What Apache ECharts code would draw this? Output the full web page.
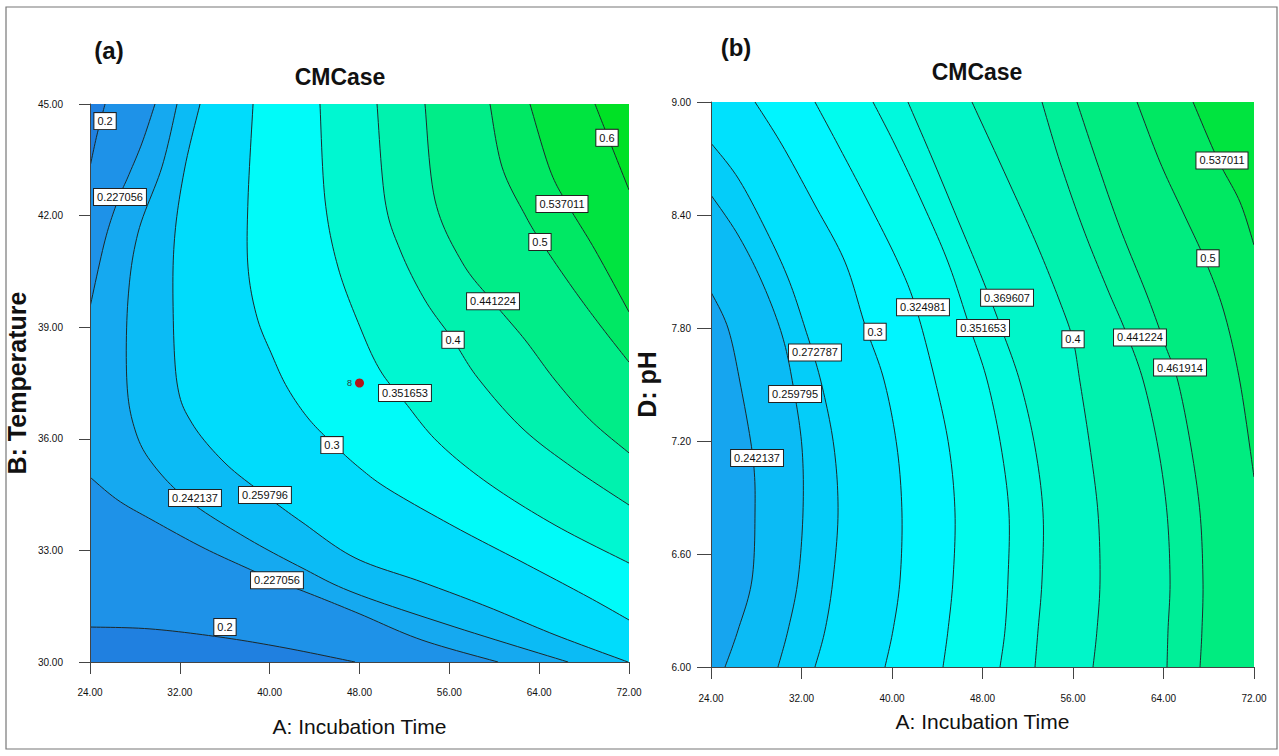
<!DOCTYPE html>
<html><head><meta charset="utf-8">
<script src="https://cdn.jsdelivr.net/npm/echarts/dist/echarts.min.js"></script>
<style>html,body{margin:0;padding:0;background:#fff}#c{width:1279px;height:756px}</style>
</head><body><div id="c"></div>
<script>
// ---------- Panel (a): A: Incubation Time (x) vs B: Temperature (y) ----------
const xTicksA = [24, 72, 8];          // min, max, step
const yTicksA = [30, 45, 3];
const A_L0200_top = [[25.34,45],[24.62,44.17],[24,43.31]];
const A_L0200_bot = [[24,30.94],[29.34,30.89],[35.58,30.67],[41.37,30.38],[47.6,30.0]];
const A_L0227_top = [[29.79,45],[28.63,43.95],[27.38,43.04],[26.49,42.42],[25.34,41.34],[24,39.54]];
const A_L0227_bot = [[24,34.97],[26.49,34.35],[29.52,33.82],[33.97,33.09],[37.8,32.55],[40.47,32.2],[44.3,31.75],[48.04,31.29],[53.56,30.59],[60.33,30]];
const A_L0242 = [[31.75,45],[30.41,43.31],[28.27,41.53],[27.38,39.73],[27.29,37.5],[28.01,36.24],[29.52,35.35],[32.73,34.35],[37.8,33.36],[42.88,32.53],[47.6,31.85],[56.5,30.94],[66.57,30]];
const A_L0260 = [[33.8,45],[32.46,43.31],[31.57,41.53],[31.39,39.73],[31.75,37.5],[33.08,36.42],[36.02,35.35],[39.58,34.49],[42.88,33.76],[47.6,32.8],[53.56,32.15],[59.44,31.48],[65.41,30.73],[71.91,30]];
const A_L0300 = [[38.52,45],[38.07,42.42],[38.07,40.62],[38.87,39.27],[40.21,38.25],[41.54,37.39],[43.41,36.56],[45.55,35.89],[48.04,35.21],[50.72,34.62],[56.5,33.63],[62.47,32.69],[68.35,31.75],[72,31.13]];
const A_L0352 = [[44.48,45],[44.93,42.42],[46.08,40.62],[48.04,39.01],[49.82,37.85],[52.05,36.98],[54.99,35.91],[59.44,34.81],[65.41,33.68],[72,32.66]];
const A_L0400 = [[49.56,45],[50.27,42.42],[51.61,41.08],[53.83,39.73],[56.33,38.66],[58.55,37.63],[62.47,36.29],[66.92,35.24],[72,34.22]];
const A_L0441 = [[53.83,45],[54.72,42.42],[57.13,40.75],[59.89,39.68],[62.74,38.66],[65.41,37.58],[68.53,36.51],[72,35.62]];
const A_L0500 = [[59.62,45],[60.69,43.31],[62.74,42.02],[64.25,41.26],[66.92,40.08],[69.41,39.06],[72,38.06]];
const A_L0537 = [[63.18,45],[64.96,43.23],[66.57,42.28],[68.97,41.08],[72,39.41]];
const A_L0600 = [[68.97,45],[70.13,44.11],[72,42.69]];
const A_labels = [["0.2",25.34,44.54],["0.227056",26.67,42.5],["0.6",70.04,44.09],["0.537011",66.03,42.31],["0.5",64.07,41.29],["0.441224",59.89,39.7],["0.4",56.33,38.66],["0.351653",52.05,37.23],["0.3",45.55,35.83],["0.259796",39.58,34.49],["0.242137",33.35,34.41],["0.227056",40.65,32.2],["0.2",36.02,30.94]];
const A_designPoint = [48, 37.5, "8"];

// ---------- Panel (b): A: Incubation Time (x) vs D: pH (y) ----------
const xTicksB = [24, 72, 8];
const yTicksB = [6, 9, 0.6];
const B_L0242 = [[24,7.991],[25.50,7.800],[26.56,7.513],[27.71,7.110],[27.89,6.818],[27.62,6.462],[26.39,6.196],[25.24,6.0]];
const B_L0260 = [[24,8.506],[26.39,8.294],[28.51,8.044],[30.28,7.763],[31.25,7.497],[32.04,7.168],[32.13,6.818],[31.69,6.462],[30.81,6.196],[29.92,6.0]];
const B_L0273 = [[24,8.782],[26.39,8.596],[28.77,8.331],[30.81,8.065],[32.31,7.800],[33.73,7.513],[34.87,7.168],[35.23,6.818],[34.78,6.462],[34.08,6.196],[33.19,6.0]];
const B_L0300 = [[27.89,9],[30.28,8.772],[33.19,8.453],[35.85,8.150],[37.61,7.816],[39.29,7.524],[40.44,7.168],[40.88,6.818],[40.71,6.462],[40.09,6.196],[39.38,6.0]];
const B_L0325 = [[33.19,9],[35.23,8.772],[37.88,8.469],[40.53,8.150],[42.12,7.906],[43.80,7.524],[45.04,7.168],[45.57,6.818],[45.39,6.462],[44.95,6.196],[44.51,6.0]];
const B_L0352 = [[38.32,9],[40.27,8.772],[42.65,8.469],[44.95,8.150],[46.81,7.816],[48.40,7.524],[49.64,7.168],[50.34,6.818],[50.25,6.462],[49.99,6.196],[49.55,6.0]];
const B_L0370 = [[41.41,9],[43.62,8.692],[45.83,8.373],[47.96,8.065],[49.72,7.789],[51.32,7.513],[52.64,7.168],[53.35,6.818],[53.26,6.462],[52.91,6.196],[52.64,6.0]];
const B_L0400 = [[47.07,9],[50.17,8.596],[52.82,8.241],[54.85,7.938],[56.0,7.736],[56.62,7.513],[57.50,7.168],[58.21,6.818],[58.39,6.462],[58.12,6.196],[57.77,6.0]];
const B_L0441 = [[53.26,9],[54.85,8.681],[56.88,8.331],[59.01,8.012],[60.60,7.789],[62.19,7.524],[63.51,7.168],[64.31,6.818],[64.58,6.462],[64.40,6.196],[64.31,6.0]];
const B_L0462 = [[56.35,9],[58.12,8.681],[60.16,8.331],[62.54,7.975],[64.14,7.710],[65.29,7.513],[66.43,7.168],[67.23,6.818],[67.49,6.462],[67.40,6.196],[67.23,6.0]];
const B_L0500 = [[61.66,9],[63.69,8.681],[65.72,8.416],[67.67,8.161],[69.35,7.885],[70.76,7.513],[72,7.009]];
const B_L0537 = [[66.61,9],[68.82,8.692],[70.76,8.469],[72,8.241]];
const B_labels = [["0.537011",69.17,8.69],["0.5",67.93,8.17],["0.324981",42.74,7.91],["0.369607",50.17,7.96],["0.3",38.5,7.78],["0.351653",48.05,7.80],["0.4",56.0,7.74],["0.441224",61.92,7.75],["0.461914",65.46,7.59],["0.272787",33.19,7.67],["0.259795",31.43,7.45],["0.242137",28.07,7.11]];

// ---------- colour ramp (response value -> colour) ----------
const rampStops = [[0.18,'#1e78dc'],[0.20,'#2188e4'],[0.22,'#1c98ea'],[0.24,'#12aef2'],[0.26,'#06c6f8'],[0.28,'#00dcfc'],[0.30,'#00ecff'],[0.32,'#00faff'],[0.34,'#00fcec'],[0.37,'#00f8d6'],[0.40,'#00f4bc'],[0.44,'#00f0a0'],[0.48,'#00ec80'],[0.52,'#00e862'],[0.56,'#00e444'],[0.60,'#00e22e'],[0.64,'#00e01c']];
function hex2rgb(h){return [parseInt(h.slice(1,3),16),parseInt(h.slice(3,5),16),parseInt(h.slice(5,7),16)];}
function colorAt(v){
  if(v<=rampStops[0][0]) return rampStops[0][1];
  for(let i=1;i<rampStops.length;i++){
    if(v<=rampStops[i][0]){
      const a=rampStops[i-1],b=rampStops[i],t=(v-a[0])/(b[0]-a[0]);
      const ca=hex2rgb(a[1]),cb=hex2rgb(b[1]);
      return 'rgb('+ca.map((c,j)=>Math.round(c+(cb[j]-c)*t)).join(',')+')';
    }
  }
  return rampStops[rampStops.length-1][1];
}

// layers painted in order: each is the region below a contour
const cA = {x0:xTicksA[0],x1:xTicksA[1],y0:yTicksA[0],y1:yTicksA[1]};
const cB = {x0:xTicksB[0],x1:xTicksB[1],y0:yTicksB[0],y1:yTicksB[1]};
function rect(c){return [[c.x0,c.y0],[c.x1,c.y0],[c.x1,c.y1],[c.x0,c.y1]];}
const RBL_A=[[cA.x1,cA.y0],[cA.x0,cA.y0],[cA.x0,cA.y1]], BL_A=[[cA.x0,cA.y0],[cA.x0,cA.y1]];
const layersA = [
  {line:null, close:rect(cA), v:0.62},
  {line:A_L0600, close:RBL_A, v:0.568},
  {line:A_L0537, close:RBL_A, v:0.518},
  {line:A_L0500, close:RBL_A, v:0.47},
  {line:A_L0441, close:RBL_A, v:0.42},
  {line:A_L0400, close:RBL_A, v:0.376},
  {line:A_L0352, close:RBL_A, v:0.326},
  {line:A_L0300, close:RBL_A, v:0.28},
  {line:A_L0260, close:BL_A, v:0.251},
  {line:A_L0242, close:BL_A, v:0.235},
  {line:A_L0227_top, close:[[cA.x0,cA.y1]], v:0.213},
  {line:A_L0227_bot, close:[[cA.x0,cA.y0]], v:0.213},
  {line:A_L0200_top, close:[[cA.x0,cA.y1]], v:0.19},
  {line:A_L0200_bot, close:[[cA.x0,cA.y0]], v:0.19}
];
const RBL_B=[[cB.x1,cB.y0],[cB.x0,cB.y0],[cB.x0,cB.y1]], BL_B=[[cB.x0,cB.y0],[cB.x0,cB.y1]];
const layersB = [
  {line:null, close:rect(cB), v:0.57},
  {line:B_L0537, close:RBL_B, v:0.52},
  {line:B_L0500, close:RBL_B, v:0.48},
  {line:B_L0462, close:BL_B, v:0.45},
  {line:B_L0441, close:BL_B, v:0.42},
  {line:B_L0400, close:BL_B, v:0.385},
  {line:B_L0370, close:BL_B, v:0.36},
  {line:B_L0352, close:BL_B, v:0.338},
  {line:B_L0325, close:BL_B, v:0.3125},
  {line:B_L0300, close:BL_B, v:0.286},
  {line:B_L0273, close:[[cB.x0,cB.y0]], v:0.266},
  {line:B_L0260, close:[[cB.x0,cB.y0]], v:0.251},
  {line:B_L0242, close:[[cB.x0,cB.y0]], v:0.232}
];
const linesA = [A_L0200_top,A_L0200_bot,A_L0227_top,A_L0227_bot,A_L0242,A_L0260,A_L0300,A_L0352,A_L0400,A_L0441,A_L0500,A_L0537,A_L0600];
const linesB = [B_L0242,B_L0260,B_L0273,B_L0300,B_L0325,B_L0352,B_L0370,B_L0400,B_L0441,B_L0462,B_L0500,B_L0537];

// Catmull-Rom smoothing in pixel space (rendering only)
function spline(P,n){
  if(P.length<3) return P.slice();
  const out=[];
  for(let i=0;i<P.length-1;i++){
    const p0=P[Math.max(i-1,0)],p1=P[i],p2=P[i+1],p3=P[Math.min(i+2,P.length-1)];
    for(let k=0;k<n;k++){
      const t=k/n,t2=t*t,t3=t2*t;
      out.push([0,1].map(j=>0.5*(2*p1[j]+(-p0[j]+p2[j])*t+(2*p0[j]-5*p1[j]+4*p2[j]-p3[j])*t2+(-p0[j]+3*p1[j]-3*p2[j]+p3[j])*t3)));
    }
  }
  out.push(P[P.length-1]);
  return out;
}
function fillRenderer(layers){
  return function(params, api){
    const L=layers[params.dataIndex];
    let pts = L.line ? spline(L.line.map(p=>api.coord(p)),12) : [];
    pts = pts.concat(L.close.map(p=>api.coord(p)));
    const col=colorAt(L.v);
    return {type:'polygon', shape:{points:pts}, style:{fill:col, stroke:col, lineWidth:0.6}};
  };
}
function lineRenderer(lines){
  return function(params, api){
    const pts=spline(lines[params.dataIndex].map(p=>api.coord(p)),12);
    return {type:'polyline', shape:{points:pts}, style:{stroke:'#1c2a2a', lineWidth:1, fill:null}};
  };
}

const SANS = "'Liberation Sans',Arial,sans-serif";
const labelBox = {show:true, position:'inside', formatter:'{b}', backgroundColor:'#ffffff', borderColor:'#222', borderWidth:1, padding:[3,3,2,3], fontSize:11, fontFamily:SANS, color:'#111', opacity:1};

function xAxisCfg(g, t, gap, margin){
  return {gridIndex:g, type:'value', min:t[0], max:t[1], interval:t[2], z:10,
    name:'A: Incubation Time', nameLocation:'middle', nameGap:gap,
    nameTextStyle:{fontFamily:SANS, fontSize:21, color:'#111'},
    axisLine:{show:true, onZero:false, lineStyle:{color:'#444', width:1}},
    axisTick:{show:true, length:12, lineStyle:{color:'#444'}},
    axisLabel:{formatter:v=>v.toFixed(2), margin:margin, fontFamily:SANS, fontSize:10, color:'#111', showMinLabel:true, showMaxLabel:true},
    splitLine:{show:false}};
}
function yAxisCfg(g, t, name, gap, margin, tick){
  return {gridIndex:g, type:'value', min:t[0], max:t[1], interval:t[2], z:10,
    name:name, nameLocation:'middle', nameGap:gap,
    nameTextStyle:{fontFamily:SANS, fontWeight:'bold', fontSize:25, color:'#111'},
    axisLine:{show:true, onZero:false, lineStyle:{color:'#444', width:1}},
    axisTick:{show:true, length:tick, lineStyle:{color:'#444'}},
    axisLabel:{formatter:v=>v.toFixed(2), margin:margin, fontFamily:SANS, fontSize:10, color:'#111', showMinLabel:true, showMaxLabel:true},
    splitLine:{show:false}};
}

const chart = echarts.init(document.getElementById('c'), null, {renderer:'svg'});
chart.setOption({
  animation:false,
  backgroundColor:'#fff',
  grid:[{left:90, top:104, width:539, height:558},{left:711, top:102, width:543, height:565}],
  xAxis:[xAxisCfg(0,xTicksA,54,25), xAxisCfg(1,xTicksB,44,26)],
  yAxis:[yAxisCfg(0,yTicksA,'B: Temperature',61,27,11), yAxisCfg(1,yTicksB,'D: pH',52,20,14)],
  graphic:[
    {type:'rect', shape:{x:6,y:7,width:1271,height:742}, style:{fill:null, stroke:'#777', lineWidth:1.2}, silent:true},
    {type:'text', x:109, y:50, style:{text:'(a)', font:'bold 24px '+SANS, fill:'#111', textAlign:'center', textVerticalAlign:'middle'}},
    {type:'text', x:736, y:47, style:{text:'(b)', font:'bold 24px '+SANS, fill:'#111', textAlign:'center', textVerticalAlign:'middle'}},
    {type:'text', x:340, y:77, style:{text:'CMCase', font:'bold 23px '+SANS, fill:'#111', textAlign:'center', textVerticalAlign:'middle'}},
    {type:'text', x:977, y:72, style:{text:'CMCase', font:'bold 23px '+SANS, fill:'#111', textAlign:'center', textVerticalAlign:'middle'}}
  ],
  series:[
    {type:'custom', xAxisIndex:0, yAxisIndex:0, clip:true, silent:true, z:1,
     data:layersA.map(l=>(l.line||l.close)[0]), renderItem:fillRenderer(layersA)},
    {type:'custom', xAxisIndex:0, yAxisIndex:0, clip:true, silent:true, z:2,
     data:linesA.map(l=>l[0]), renderItem:lineRenderer(linesA)},
    {type:'scatter', xAxisIndex:0, yAxisIndex:0, z:3, silent:true, symbolSize:1, itemStyle:{color:'rgba(0,0,0,0)', opacity:1},
     label:labelBox, data:A_labels.map(d=>({name:d[0], value:[d[1],d[2]]}))},
    {type:'scatter', xAxisIndex:0, yAxisIndex:0, z:4, silent:true, symbolSize:9, itemStyle:{color:'#b3141a', opacity:1},
     label:{show:true, position:'left', distance:3, formatter:'{b}', fontSize:9, fontFamily:SANS, color:'#333'},
     data:[{name:A_designPoint[2], value:[A_designPoint[0],A_designPoint[1]]}]},
    {type:'custom', xAxisIndex:1, yAxisIndex:1, clip:true, silent:true, z:1,
     data:layersB.map(l=>(l.line||l.close)[0]), renderItem:fillRenderer(layersB)},
    {type:'custom', xAxisIndex:1, yAxisIndex:1, clip:true, silent:true, z:2,
     data:linesB.map(l=>l[0]), renderItem:lineRenderer(linesB)},
    {type:'scatter', xAxisIndex:1, yAxisIndex:1, z:3, silent:true, symbolSize:1, itemStyle:{color:'rgba(0,0,0,0)', opacity:1},
     label:labelBox, data:B_labels.map(d=>({name:d[0], value:[d[1],d[2]]}))}
  ]
});
</script></body></html>
